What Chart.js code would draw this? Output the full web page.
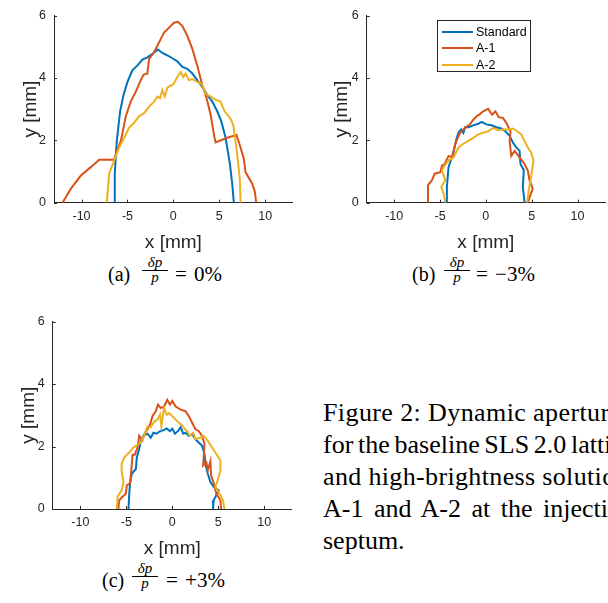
<!DOCTYPE html>
<html>
<head>
<meta charset="utf-8">
<script src="https://cdn.jsdelivr.net/npm/chart.js@4.4.1/dist/chart.umd.min.js"></script>
<style>
  body { margin: 0; width: 608px; height: 603px; overflow: hidden; background: #fff; position: relative; font-family: "Liberation Serif", "Times New Roman", serif; color: #000; }
  canvas.plot { position: absolute; }
  .sub { position: absolute; width: 140px; height: 30px; white-space: nowrap; }
  .sub .lbl { position: absolute; left: 0; top: 0; font-size: 20px; line-height: 24px; }
  .sub .rhs { position: absolute; top: 0; font-size: 21px; line-height: 24px; word-spacing: 2px; }
  .sub .frac { position: absolute; top: -6px; width: 26px; text-align: center; font-style: italic; font-size: 15px; }
  .sub .frac span { display: block; line-height: 13px; }
  .sub .frac .num { border-bottom: 1px solid #000; padding-bottom: 1px; }
  #legend { position: absolute; left: 437px; top: 20px; width: 94px; height: 52px; border: 1px solid #262626; background: #fff; box-sizing: border-box; }
  #legend .row { position: absolute; left: 4px; height: 16px; font: 12.5px "Liberation Sans", Arial, sans-serif; color: #000; white-space: nowrap; }
  #legend .swatch { position: absolute; left: 0; top: 7px; width: 31px; height: 2px; }
  #legend .txt { position: absolute; left: 34px; top: 0; line-height: 16px; }
  #caption { position: absolute; left: 323px; top: 397px; font-size: 26px; line-height: 32px; white-space: nowrap; }
</style>
</head>
<body>
<canvas id="chartA" class="plot" width="300" height="254" style="left:0px;top:0px"></canvas>
<canvas id="chartB" class="plot" width="298" height="254" style="left:310px;top:0px"></canvas>
<canvas id="chartC" class="plot" width="300" height="254" style="left:0px;top:306px"></canvas>
<div id="legend"></div>

<div class="sub" style="left:108px;top:262px">
  <span class="lbl">(a)</span>
  <div class="frac" style="left:34px"><span class="num">δp</span><span>p</span></div>
  <span class="rhs" style="left:67px">= 0%</span>
</div>
<div class="sub" style="left:412px;top:262px">
  <span class="lbl">(b)</span>
  <div class="frac" style="left:32px"><span class="num">δp</span><span>p</span></div>
  <span class="rhs" style="left:64px">= −3%</span>
</div>
<div class="sub" style="left:102px;top:568px">
  <span class="lbl">(c)</span>
  <div class="frac" style="left:30px"><span class="num">δp</span><span>p</span></div>
  <span class="rhs" style="left:64px">= +3%</span>
</div>

<div id="caption">
  <div style="letter-spacing:0.4px">Figure 2: Dynamic aperture</div>
  <div style="word-spacing:-1.8px">for the baseline SLS 2.0 lattice</div>
  <div style="letter-spacing:0.35px">and high-brightness solutions</div>
  <div style="word-spacing:4px">A-1 and A-2 at the injection</div>
  <div>septum.</div>
</div>

<script>
const seriesNames = ['Standard', 'A-1', 'A-2'];
const seriesColors = ['#0072BD', '#D95319', '#EDB120'];
const xTickValues = [-10, -5, 0, 5, 10];
const yTickValues = [0, 2, 4, 6];
const xMin = -13, xMax = 13, yMin = 0, yMax = 6;

// (a) dp/p = 0%
const stdA_x = [-6.45, -6.38, -6.16, -5.8, -5.43, -5.0, -4.46, -3.91, -3.37, -2.83, -2.28, -1.67, -1.2, -0.65, -0.1, 0.43, 0.98, 1.52, 2.07, 2.6, 3.15, 3.7, 4.24, 4.78, 5.22, 5.69, 6.16, 6.41, 6.59];
const stdA_y = [0, 0.93, 1.98, 2.93, 3.45, 3.87, 4.24, 4.4, 4.59, 4.66, 4.77, 4.91, 4.8, 4.72, 4.63, 4.53, 4.35, 4.29, 4.14, 3.93, 3.72, 3.45, 3.24, 2.93, 2.61, 2.08, 1.24, 0.61, 0];
const a1A_x = [-12.07, -11.16, -10.07, -8.99, -8.08, -6.45, -6.27, -5.72, -5.18, -4.64, -4.09, -3.55, -3.26, -2.83, -2.64, -2.1, -1.56, -1.01, -0.47, 0.07, 0.5, 0.98, 1.52, 2.07, 2.6, 3.15, 3.62, 4.06, 4.42, 4.6, 5.87, 6.88, 7.32, 7.68, 7.86, 8.59, 8.88, 9.02];
const a1A_y = [0, 0.45, 0.87, 1.14, 1.38, 1.38, 1.56, 1.98, 2.77, 3.24, 3.56, 3.93, 4.1, 4.14, 4.61, 4.82, 5.14, 5.45, 5.61, 5.77, 5.8, 5.66, 5.35, 4.93, 4.4, 3.77, 3.35, 2.82, 2.19, 1.93, 2.08, 2.17, 1.77, 1.4, 0.98, 0.61, 0.35, 0];
const a2A_x = [-7.25, -6.99, -6.45, -5.9, -5.36, -4.82, -4.28, -3.73, -3.19, -2.64, -2.1, -1.74, -1.45, -1.2, -0.94, -0.65, -0.36, -0.1, 0.14, 0.43, 0.8, 1.09, 1.34, 1.7, 2.07, 2.6, 3.15, 3.51, 4.06, 4.6, 5.14, 5.58, 6.16, 6.52, 6.77, 7.03, 7.25, 7.32];
const a2A_y = [0, 0.93, 1.35, 1.77, 2.08, 2.4, 2.56, 2.77, 2.87, 3.08, 3.24, 3.4, 3.35, 3.61, 3.4, 3.68, 3.75, 3.77, 3.87, 4.03, 4.19, 4.03, 4.14, 3.93, 3.96, 3.87, 3.79, 3.5, 3.4, 3.3, 3.24, 2.93, 2.72, 2.5, 1.98, 1.35, 0.72, 0];

// (b) dp/p = -3%
const stdB_x = [-4.32, -4.25, -4.07, -3.71, -3.42, -3.17, -2.99, -2.7, -2.45, -2.27, -1.91, -1.37, -0.83, -0.47, 0.07, 0.61, 1.15, 1.69, 2.13, 2.59, 2.95, 3.32, 3.68, 3.78, 4.14, 4.04, 4.22];
const stdB_y = [0, 0.51, 1.14, 1.45, 1.77, 2.08, 2.24, 2.35, 2.24, 2.42, 2.42, 2.48, 2.53, 2.59, 2.51, 2.48, 2.42, 2.38, 2.29, 2.14, 1.93, 1.77, 1.66, 1.24, 1.05, 0.51, 0];
const a1B_x = [-6.31, -6.31, -5.87, -5.59, -4.97, -4.79, -4.5, -4.07, -3.64, -3.35, -3.06, -2.81, -2.27, -1.73, -1.37, -1.01, -0.65, -0.29, 0.25, 0.68, 1.05, 1.41, 1.87, 2.23, 2.49, 2.7, 2.59, 2.77, 3.14, 3.68, 4.22, 4.58, 4.76, 5.12, 4.86, 4.58];
const a1B_y = [0, 0.56, 0.72, 0.93, 0.98, 1.19, 1.24, 1.5, 1.45, 1.87, 2.08, 2.24, 2.4, 2.51, 2.66, 2.77, 2.84, 2.93, 3.01, 2.82, 2.93, 2.74, 2.72, 2.56, 2.4, 2.29, 1.98, 1.5, 1.66, 1.45, 1.24, 1.03, 0.72, 0.45, 0.24, 0];
const a2B_x = [-4.43, -4.61, -4.86, -4.43, -4.79, -4.5, -4.07, -3.53, -2.99, -2.45, -1.91, -1.37, -0.83, -0.29, 0.25, 0.79, 1.33, 1.87, 2.41, 2.95, 3.42, 3.86, 4.22, 4.58, 4.94, 5.19, 4.94, 4.68, 4.5];
const a2B_y = [0, 0.29, 0.51, 0.72, 1.03, 1.19, 1.35, 1.45, 1.77, 1.89, 1.98, 2.08, 2.19, 2.24, 2.29, 2.4, 2.32, 2.35, 2.35, 2.38, 2.29, 2.19, 1.98, 1.77, 1.61, 1.35, 0.82, 0.4, 0];

// (c) dp/p = +3%
const stdC_x = [-4.76, -4.68, -4.58, -4.4, -3.96, -3.86, -3.6, -3.42, -3.14, -2.7, -2.34, -2.05, -1.69, -1.33, -0.97, -0.61, -0.25, 0, 0.29, 0.61, 0.9, 1.19, 1.44, 1.8, 2.16, 2.52, 2.88, 3.24, 3.5, 3.6, 3.86, 4.14, 4.5, 5.05, 4.5, 4.43];
const stdC_y = [0, 0.49, 0.86, 1.13, 1.28, 1.65, 1.92, 2.18, 2.34, 2.41, 2.28, 2.44, 2.41, 2.49, 2.52, 2.58, 2.49, 2.57, 2.41, 2.49, 2.62, 2.41, 2.44, 2.34, 2.39, 2.23, 2.13, 2.02, 1.76, 1.44, 1.13, 0.86, 0.71, 0.6, 0.28, 0];
const a1C_x = [-5.87, -5.77, -5.41, -5.05, -4.94, -4.58, -4.43, -4.32, -4.07, -3.78, -3.6, -3.24, -3.06, -2.7, -2.41, -2.16, -1.8, -1.55, -1.26, -0.9, -0.54, -0.25, 0, 0.36, 0.9, 1.44, 1.8, 2.16, 2.52, 2.88, 3.24, 3.5, 3.35, 3.71, 3.86, 4.14, 4.22, 4.5, 4.79, 5.23, 5.3];
const a1C_y = [0, 0.28, 0.39, 0.49, 0.76, 0.83, 1.34, 1.74, 1.74, 1.97, 2.34, 2.2, 2.39, 2.55, 2.71, 2.97, 3.13, 3.34, 3.23, 3.28, 3.49, 3.34, 3.46, 3.28, 3.18, 3.13, 2.97, 2.76, 2.55, 2.49, 2.34, 2.07, 1.39, 1.49, 1.25, 1.53, 1.07, 0.83, 0.49, 0.28, 0];
const a2C_x = [-6.02, -5.95, -5.51, -5.3, -5.51, -5.51, -5.23, -4.68, -4.22, -3.78, -3.42, -3.06, -2.7, -2.34, -1.98, -1.62, -1.33, -1.19, -0.9, -0.61, -0.36, 0, 0.36, 0.72, 1.08, 1.37, 1.62, 1.91, 2.27, 2.52, 2.99, 3.42, 3.86, 4.32, 4.79, 5.23, 5.23, 4.94, 4.68, 5.23, 5.51, 5.66];
const a2C_y = [0, 0.39, 0.6, 0.86, 1.23, 1.44, 1.65, 1.81, 1.97, 2.05, 2.13, 2.34, 2.65, 2.62, 2.79, 2.86, 3.02, 2.65, 3.23, 3.02, 3.07, 2.97, 2.86, 2.76, 2.68, 2.55, 2.49, 2.34, 2.44, 2.23, 2.28, 2.34, 2.18, 1.97, 1.76, 1.55, 1.23, 0.92, 0.71, 0.44, 0.28, 0];

const axisColor = '#262626';
const tickFont = { family: '"Liberation Sans", Arial, sans-serif', size: 12.5 };
const titleFont = { family: '"Liberation Sans", Arial, sans-serif', size: 19 };

// MATLAB style ticks pointing into the axes
const inwardTicks = {
    id: 'inwardTicks',
    afterDraw(chart) {
        const { ctx, chartArea, scales } = chart;
        ctx.save();
        ctx.strokeStyle = axisColor;
        ctx.lineWidth = 1;
        ctx.beginPath();
        scales.x.ticks.forEach(t => {
            const px = Math.round(scales.x.getPixelForValue(t.value)) + 0.5;
            ctx.moveTo(px, chartArea.bottom);
            ctx.lineTo(px, chartArea.bottom - 3);
        });
        scales.y.ticks.forEach(t => {
            const py = Math.round(scales.y.getPixelForValue(t.value)) + 0.5;
            ctx.moveTo(chartArea.left, py);
            ctx.lineTo(chartArea.left + 3, py);
        });
        ctx.stroke();
        ctx.restore();
    }
};

function makeChart(id, xs, ys, box) {
    const datasets = xs.map((xArr, i) => ({
        label: seriesNames[i],
        data: xArr.map((v, k) => ({ x: v, y: ys[i][k] })),
        borderColor: seriesColors[i],
        borderWidth: 2,
        pointRadius: 0,
        tension: 0,
        fill: false,
        order: xs.length - i
    }));
    return new Chart(document.getElementById(id), {
        type: 'line',
        data: { datasets },
        options: {
            responsive: false,
            animation: false,
            events: [],
            layout: { padding: { left: box.padLeft, top: box.padTop, right: box.padRight, bottom: 0 } },
            plugins: { legend: { display: false }, tooltip: { enabled: false } },
            scales: {
                x: {
                    type: 'linear', min: xMin, max: xMax,
                    afterBuildTicks: s => { s.ticks = xTickValues.map(v => ({ value: v })); },
                    afterFit: s => { s.height = box.xAxisHeight; },
                    ticks: { font: tickFont, color: axisColor, padding: 6, maxRotation: 0, autoSkip: false, callback: v => String(v) },
                    grid: { display: false, drawTicks: false },
                    border: { display: true, color: axisColor, width: 1 },
                    title: { display: true, text: 'x [mm]', font: titleFont, color: axisColor, padding: 0 }
                },
                y: {
                    type: 'linear', min: yMin, max: yMax,
                    afterBuildTicks: s => { s.ticks = yTickValues.map(v => ({ value: v })); },
                    afterFit: s => { s.width = box.yAxisWidth; },
                    ticks: { font: tickFont, color: axisColor, padding: 8, autoSkip: false, callback: v => String(v) },
                    grid: { display: false, drawTicks: false },
                    border: { display: true, color: axisColor, width: 1 },
                    title: { display: true, text: 'y [mm]', font: titleFont, color: axisColor, padding: 0 }
                }
            }
        },
        plugins: [inwardTicks]
    });
}

makeChart('chartA', [stdA_x, a1A_x, a2A_x], [stdA_y, a1A_y, a2A_y],
    { padLeft: 19, padTop: 12.7, padRight: 7.3, yAxisWidth: 35, xAxisHeight: 51.3 });
makeChart('chartB', [stdB_x, a1B_x, a2B_x], [stdB_y, a1B_y, a2B_y],
    { padLeft: 20.5, padTop: 12.7, padRight: 3, yAxisWidth: 36.2, xAxisHeight: 51.3 });
makeChart('chartC', [stdC_x, a1C_x, a2C_x], [stdC_y, a1C_y, a2C_y],
    { padLeft: 17.6, padTop: 13, padRight: 8.1, yAxisWidth: 35.1, xAxisHeight: 51 });

// legend for panel (b)
const legend = document.getElementById('legend');
seriesNames.forEach((name, i) => {
    const row = document.createElement('div');
    row.className = 'row';
    row.style.top = (3 + i * 16.3) + 'px';
    row.innerHTML = '<div class="swatch" style="background:' + seriesColors[i] + '"></div><div class="txt">' + name + '</div>';
    legend.appendChild(row);
});
</script>
</body>
</html>
